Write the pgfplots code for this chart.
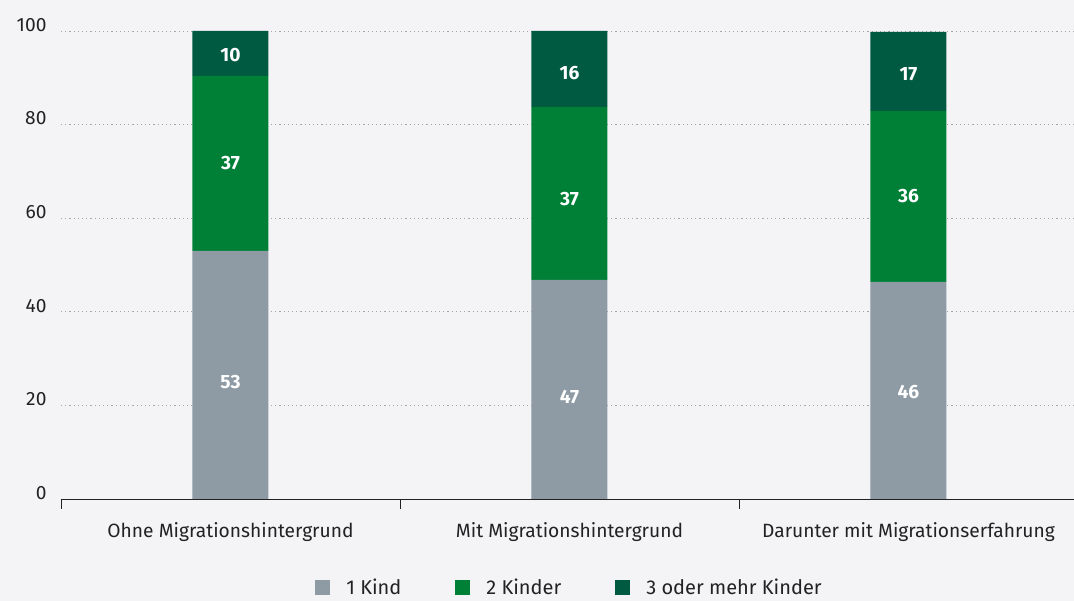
\documentclass[border=0pt]{standalone}
\usepackage{pgfplots}
\pgfplotsset{compat=1.18}
\usepackage{pgfplotstable}
\usepackage{fontspec}
\setmainfont{Fira Sans}
\definecolor{bg}{HTML}{F4F3F6}
\definecolor{c1}{HTML}{8E9BA4}
\definecolor{c2}{HTML}{008037}
\definecolor{c3}{HTML}{005A41}
\definecolor{txt}{HTML}{222222}

\pgfplotstableread{
x a b c
0 53 37.4 9.6
1 46.8 37 16.2
2 46.4 36.5 16.9
}\bars
\pgfplotstableread{
x y lab
0 25.0 53
0 71.8 37
0 94.9 10
1 21.8 47
1 64.1 37
1 91.0 16
2 22.9 46
2 64.7 36
2 90.8 17
}\labs

\begin{document}
\begin{tikzpicture}
\fill[bg] (-61pt,-102pt) rectangle (1013pt,499pt);
\useasboundingbox (-61pt,-102pt) rectangle (1013pt,499pt);
\pgfplotsset{common/.style={scale only axis, width=1017pt, height=468pt,
  xmin=-0.5, xmax=2.5, ymin=0, ymax=100, clip=false}}
\begin{axis}[common, ybar stacked, bar width=76pt,
  axis x line*=bottom, axis y line*=left,
  y axis line style={draw=none},
  x axis line style={draw=txt, line width=0.8pt},
  ytick={0,20,40,60,80,100},
  ytick style={draw=none},
  ymajorgrids,
  major grid style={draw=gray!70, line width=0.7pt, dash pattern=on 1.2pt off 3pt},
  xtick={0,1,2},
  xticklabels={Ohne Migrationshintergrund, Mit Migrationshintergrund, Darunter mit Migrationserfahrung},
  major x tick style={draw=none},
  minor xtick={-0.5,0.5,1.5,2.5},
  minor x tick style={draw=txt, line width=0.8pt},
  tick align=outside,
  minor tick length=10pt,
  major tick length=0pt,
  /pgf/number format/assume math mode=true,
  tick label style={font=\fontsize{19.2}{23}\selectfont, text=txt},
  yticklabel style={anchor=east, xshift=-11pt, yshift=6pt},
  xticklabel style={anchor=center, yshift=-33pt},
  legend style={at={(0.5,-0.19)}, anchor=center, legend columns=3, draw=none, fill=none,
    font=\fontsize{20}{24}\selectfont, text=txt,
    /tikz/every odd column/.append style={column sep=14pt},
    /tikz/every even column/.append style={column sep=52pt}},
  legend image code/.code={\fill[#1, draw=none] (0pt,-7.5pt) rectangle (15pt,7.5pt);},
]
\addplot[fill=c1, draw=none] table[x=x,y=a]{\bars};
\addlegendentry{1 Kind}
\addplot[fill=c2, draw=none] table[x=x,y=b]{\bars};
\addlegendentry{2 Kinder}
\addplot[fill=c3, draw=none] table[x=x,y=c]{\bars};
\addlegendentry{3 oder mehr Kinder}
\end{axis}
\begin{axis}[common, hide axis]
\addplot[draw=none, only marks, mark=*, mark size=0pt, mark options={draw=none, fill=none},
  nodes near coords, point meta=explicit symbolic,
  every node near coord/.append style={anchor=center, font=\fontsize{19.2}{23}\selectfont\bfseries, text=white}]
  table[x=x,y=y,meta=lab]{\labs};
\end{axis}
\end{tikzpicture}
\end{document}
